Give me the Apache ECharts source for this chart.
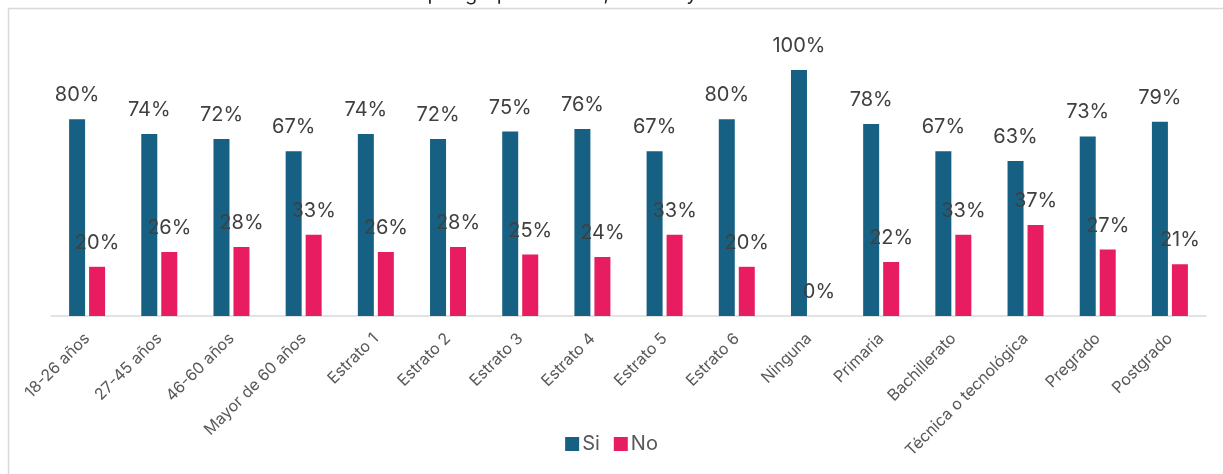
<!DOCTYPE html>
<html>
<head>
<meta charset="utf-8">
<script src="https://cdn.jsdelivr.net/npm/echarts@6/dist/echarts.min.js"></script>
<style>
html,body{margin:0;padding:0;background:#fff;}
#chart{width:1223px;height:474px;}
</style>
</head>
<body>
<div id="chart"></div>
<script>
var titleText = 'Confianza por grupo de edad, estrato y nivel educativo';
var categories = ['18-26 años','27-45 años','46-60 años','Mayor de 60 años','Estrato 1','Estrato 2','Estrato 3','Estrato 4','Estrato 5','Estrato 6','Ninguna','Primaria','Bachillerato','Técnica o tecnológica','Pregrado','Postgrado'];
var siValues = [80,74,72,67,74,72,75,76,67,80,100,78,67,63,73,79];
var noValues = [20,26,28,33,26,28,25,24,33,20,0,22,33,37,27,21];
var seriesNames = ['Si','No'];

var FONT = 'Inter, "Noto Sans", sans-serif';
var chart = echarts.init(document.getElementById('chart'), null, {renderer:'canvas'});
var labelCfg = {
  show: true, position: 'top', distance: 14,
  fontSize: 20, color: '#404040', fontFamily: FONT,
  formatter: function(p){ return p.value + '%'; }
};
chart.setOption({
  animation: false,
  backgroundColor: '#ffffff',
  title: {
    text: titleText, left: 326, top: -16, padding: 0,
    textStyle: {fontSize: 20, fontWeight: 'normal', color: '#262626', fontFamily: FONT, lineHeight: 20}
  },
  graphic: [
    {type:'line', shape:{x1:8, y1:8.5, x2:1223, y2:8.5}, style:{stroke:'#d9d9d9', lineWidth:1.5}, silent:true},
    {type:'line', shape:{x1:8.5, y1:8, x2:8.5, y2:474}, style:{stroke:'#d9d9d9', lineWidth:1.5}, silent:true}
  ],
  legend: {
    bottom: 15, left: 'center', itemWidth: 14, itemHeight: 14, itemGap: 14,
    icon: 'rect',
    textStyle: {fontSize: 20, color: '#595959', fontFamily: FONT, padding:[0,0,0,-2]},
    data: seriesNames
  },
  grid: {left: 51, right: 17, top: 70, bottom: 158, containLabel: false},
  xAxis: {
    type: 'category', data: categories,
    axisLine: {show: true, lineStyle: {color: '#d9d9d9', width: 1.5}},
    axisTick: {show: false},
    axisLabel: {rotate: 45, interval: 0, fontSize: 16, color: '#595959', fontFamily: FONT, margin: 20}
  },
  yAxis: {type: 'value', min: 0, max: 100, show: false, splitLine: {show: false}},
  series: [
    {name: seriesNames[0], type: 'bar', data: siValues, barWidth: 16, barGap: '25%',
     itemStyle: {color: '#166083'}, label: labelCfg},
    {name: seriesNames[1], type: 'bar', data: noValues, barWidth: 16, barGap: '25%',
     itemStyle: {color: '#E81C60'}, label: labelCfg}
  ]
});
</script>
</body>
</html>
